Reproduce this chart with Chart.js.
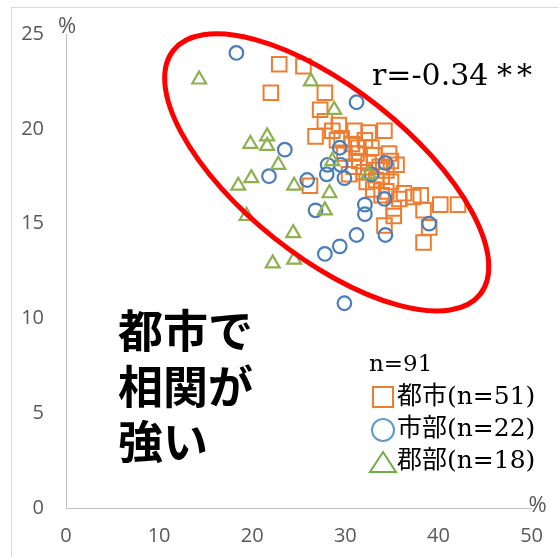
<!DOCTYPE html>
<html>
<head>
<meta charset="utf-8">
<script src="https://cdn.jsdelivr.net/npm/chart.js@4.4.0/dist/chart.umd.min.js"></script>
<style>
  html, body { margin: 0; padding: 0; background: #fff; }
  canvas { display: block; }
</style>
</head>
<body>
<canvas id="scatterChart" width="559" height="557"></canvas>
<script>
// 都市 (n=51)
const toshiX = [22.9, 25.5, 22.0, 27.8, 27.3, 27.8, 26.8, 29.3, 31.0, 34.2,
                29.6, 30.7, 32.1, 31.4, 32.8, 29.9, 33.1, 34.7, 34.9, 31.5,
                30.9, 32.0, 33.3, 32.3, 33.9, 34.4, 26.2, 36.3, 37.3, 38.1,
                40.2, 42.1, 38.4, 35.2, 35.2, 34.2, 39.0, 38.4, 33.9, 29.1,
                30.4, 32.5, 33.7, 33.0, 35.5, 34.9, 34.4, 28.6, 31.2, 35.8,
                32.5];
const toshiY = [23.4, 23.3, 21.9, 21.9, 21.0, 20.4, 19.6, 20.2, 19.9, 19.9,
                19.5, 19.2, 19.4, 19.0, 19.0, 18.7, 18.6, 18.7, 18.3, 18.3,
                18.0, 17.7, 17.3, 17.2, 17.5, 17.8, 17.0, 16.6, 16.4, 16.5,
                16.0, 16.0, 15.7, 15.8, 15.4, 14.9, 14.8, 14.0, 16.5, 19.4,
                17.6, 18.2, 18.0, 16.8, 18.1, 17.2, 16.7, 19.9, 18.7, 16.3,
                19.8];
// 市部 (n=22)
const shibuX = [18.3, 31.2, 23.5, 29.4, 28.1, 28.0, 29.5, 29.9, 25.9, 21.8,
                32.8, 34.3, 32.1, 32.1, 34.2, 26.8, 31.2, 29.4, 27.8, 29.9,
                34.3, 39.0];
const shibuY = [24.0, 21.4, 18.9, 19.0, 18.1, 17.6, 18.1, 17.4, 17.3, 17.5,
                17.6, 18.2, 16.0, 15.5, 16.3, 15.7, 14.4, 13.8, 13.4, 10.8,
                14.4, 15.0];
// 郡部 (n=18)
const gunbuX = [14.3, 26.3, 28.8, 21.6, 19.8, 21.6, 22.8, 19.9, 18.5, 24.5,
                19.4, 24.4, 24.5, 22.2, 28.6, 32.5, 28.3, 27.8];
const gunbuY = [22.6, 22.5, 21.0, 19.6, 19.2, 19.1, 18.1, 17.4, 17.0, 17.0,
                15.4, 14.5, 13.1, 12.9, 18.3, 17.6, 16.6, 15.7];

const seriesNames = ['都市(n=51)', '市部(n=22)', '郡部(n=18)'];
const xTicks = [0, 10, 20, 30, 40, 50];
const yTicks = [0, 5, 10, 15, 20, 25];
const noteLines = ['都市で', '相関が', '強い'];
const corrLabel = 'r=-0.34';
const totalLabel = 'n=91';

const colors = {
    toshi: '#ED7D31',
    shibu: '#4A7EBB',
    gunbu: '#8FB050',
    legendShibu: '#5B9BD5',
    legendGunbu: '#70AD47'
};

// ellipse centre in data units, radii in pixels
const ellipse = { cx: 28.0, cy: 17.7, rx: 196, ry: 84, angle: 38.5 };

function toPoints(xs, ys) {
    return xs.map((x, i) => ({ x: x, y: ys[i] }));
}

const frame = {
    id: 'frame',
    beforeDraw(chart) {
        const ctx = chart.ctx;
        ctx.save();
        ctx.fillStyle = '#fff';
        ctx.fillRect(0, 0, chart.width, chart.height);
        ctx.strokeStyle = '#d9d9d9';
        ctx.lineWidth = 1;
        ctx.strokeRect(11.5, 7.5, 600, 600);
        ctx.restore();
    }
};

const overlay = {
    id: 'overlay',
    afterDatasetsDraw(chart) {
        const ctx = chart.ctx;
        const xs = chart.scales.x, ys = chart.scales.y;
        ctx.save();
        ctx.beginPath();
        ctx.ellipse(xs.getPixelForValue(ellipse.cx), ys.getPixelForValue(ellipse.cy),
            ellipse.rx, ellipse.ry, ellipse.angle * Math.PI / 180, 0, Math.PI * 2);
        ctx.strokeStyle = '#FF0000';
        ctx.lineWidth = 5;
        ctx.stroke();
        ctx.restore();
    },
    afterDraw(chart) {
        const ctx = chart.ctx;
        const xs = chart.scales.x, ys = chart.scales.y;
        ctx.save();

        // unit marks
        ctx.fillStyle = '#595959';
        ctx.font = '22px "Open Sans"';
        ctx.textAlign = 'center';
        ctx.textBaseline = 'middle';
        ctx.fillText('%', xs.left + 1, ys.top - 7);
        ctx.fillText('%', xs.right + 6, ys.bottom - 2);

        // big note
        ctx.fillStyle = '#000';
        ctx.font = 'bold 45px "Noto Sans CJK JP"';
        ctx.textAlign = 'left';
        noteLines.forEach((t, i) => ctx.fillText(t, 118, 331 + i * 55.5));

        // correlation
        ctx.font = '30px "DejaVu Serif"';
        ctx.textBaseline = 'alphabetic';
        ctx.fillText(corrLabel, 372, 85);
        ctx.fillText('*', 497, 85);
        ctx.fillText('*', 517, 85);

        // legend
        ctx.font = '23px "DejaVu Serif"';
        ctx.fillText(totalLabel, 369, 371);
        ctx.font = '25px "DejaVu Serif", "Noto Sans CJK JP"';
        ctx.textBaseline = 'middle';
        const rows = [397, 429, 461];
        rows.forEach((y, i) => ctx.fillText(seriesNames[i], 397, y));

        ctx.lineWidth = 2;
        ctx.strokeStyle = colors.toshi;
        ctx.strokeRect(373, rows[0] - 10, 20, 20);
        ctx.strokeStyle = colors.legendShibu;
        ctx.beginPath();
        ctx.arc(383, rows[1] + 1, 11, 0, Math.PI * 2);
        ctx.stroke();
        ctx.strokeStyle = colors.legendGunbu;
        ctx.beginPath();
        ctx.moveTo(383, rows[2] - 9);
        ctx.lineTo(396, rows[2] + 11);
        ctx.lineTo(370, rows[2] + 11);
        ctx.closePath();
        ctx.stroke();

        ctx.restore();
    }
};

const tickFont = { family: 'Open Sans', size: 20 };

new Chart(document.getElementById('scatterChart'), {
    type: 'scatter',
    data: {
        datasets: [{
            label: seriesNames[2],
            data: toPoints(gunbuX, gunbuY),
            pointStyle: 'triangle',
            radius: 8,
            borderColor: colors.gunbu,
            backgroundColor: 'rgba(0,0,0,0)',
            borderWidth: 2.2
        }, {
            label: seriesNames[1],
            data: toPoints(shibuX, shibuY),
            pointStyle: 'circle',
            radius: 6.8,
            borderColor: colors.shibu,
            backgroundColor: 'rgba(0,0,0,0)',
            borderWidth: 2.2
        }, {
            label: seriesNames[0],
            data: toPoints(toshiX, toshiY),
            pointStyle: 'rect',
            radius: 10.3,
            borderColor: colors.toshi,
            backgroundColor: 'rgba(0,0,0,0)',
            borderWidth: 2
        }]
    },
    options: {
        responsive: false,
        animation: false,
        devicePixelRatio: 1,
        events: [],
        layout: { padding: { top: 30, right: 22, left: 0, bottom: 0 } },
        plugins: {
            legend: { display: false },
            tooltip: { enabled: false }
        },
        scales: {
            x: {
                type: 'linear',
                min: xTicks[0],
                max: xTicks[xTicks.length - 1],
                afterBuildTicks: s => { s.ticks = xTicks.map(v => ({ value: v })); },
                afterFit: s => { s.height = 49; },
                grid: { display: false, drawTicks: false },
                border: { display: true, color: '#bfbfbf', width: 1 },
                ticks: { color: '#595959', font: tickFont, padding: 16, maxRotation: 0 }
            },
            y: {
                type: 'linear',
                min: yTicks[0],
                max: yTicks[yTicks.length - 1],
                afterBuildTicks: s => { s.ticks = yTicks.map(v => ({ value: v })); },
                afterFit: s => { s.width = 66; },
                grid: { display: false, drawTicks: false },
                border: { display: true, color: '#bfbfbf', width: 1 },
                ticks: { color: '#595959', font: tickFont, padding: 22 }
            }
        }
    },
    plugins: [frame, overlay]
});
</script>
</body>
</html>
